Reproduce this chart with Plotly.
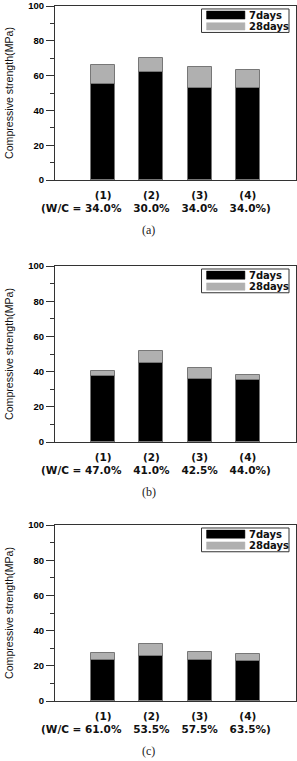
import plotly.graph_objects as go
from plotly.subplots import make_subplots

# ---- data ----
positions = [1, 2, 3, 4]
mix_labels = ["(1)", "(2)", "(3)", "(4)"]
panel_names = ["(a)", "(b)", "(c)"]
wc_a = ["34.0%", "30.0%", "34.0%", "34.0%"]
wc_b = ["47.0%", "41.0%", "42.5%", "44.0%"]
wc_c = ["61.0%", "53.5%", "57.5%", "63.5%"]
days7_a = [55.0, 62.2, 52.9, 52.7]
days28_a = [66.0, 70.3, 64.9, 63.3]
days7_b = [37.5, 44.9, 36.0, 35.4]
days28_b = [40.3, 51.5, 42.0, 38.3]
days7_c = [23.1, 25.8, 23.5, 22.9]
days28_c = [27.4, 32.4, 27.8, 26.7]

panels = [
    (wc_a, days7_a, days28_a),
    (wc_b, days7_b, days28_b),
    (wc_c, days7_c, days28_c),
]

W, H = 297, 761
ML, MR, MT, MB = 55, 1, 6, 60
plot_h = H - MT - MB
# pixel extents (top, bottom) of each panel's plotting area
pix = [(6, 180), (266, 442), (525, 701)]

def ydom(top, bot):
    return [(H - MB - bot) / plot_h, (H - MB - top) / plot_h]

fig = make_subplots(rows=3, cols=1)

GRAY = "#b0b0b0"
AXC = "#333333"
TICKF = dict(family="Liberation Sans, Arial, sans-serif", size=9.5, color="#000000", weight="bold")
XLF = dict(family="DejaVu Sans, sans-serif", size=10.5, color="#111111", weight="bold")
TITF = dict(family="Liberation Sans, Arial, sans-serif", size=10.6, color="#111111")
LEGF = dict(family="DejaVu Sans, sans-serif", size=10, color="#111111", weight="bold")

for i, (wc, d7, d28) in enumerate(panels):
    r = i + 1
    fig.add_trace(go.Bar(x=positions, y=d28, width=0.5, marker=dict(color=GRAY, line=dict(color="#777777", width=1)),
                         name="28days", showlegend=False), row=r, col=1)
    fig.add_trace(go.Bar(x=positions, y=d7, width=0.5, marker=dict(color="#000000", line=dict(color="#777777", width=1)),
                         name="7days", showlegend=False), row=r, col=1)
    sfx = "" if r == 1 else str(r)
    fig.update_layout(**{
        f"xaxis{sfx}": dict(range=[0, 5], tickvals=positions,
                             ticktext=[f"{m}<br>{w}" for m, w in zip(mix_labels, wc)],
                             tickfont=XLF, showline=True, linecolor=AXC, linewidth=1, mirror=True,
                             ticks="", ticklabelstandoff=5, showgrid=False, zeroline=False,
                             fixedrange=True, domain=[0, 1]),
        f"yaxis{sfx}": dict(range=[0, 100], dtick=20, tickfont=TICKF, showline=True, linecolor=AXC, linewidth=1,
                             mirror=True, ticks="outside", ticklen=8, tickcolor=AXC, showgrid=False,
                             zeroline=False,
                             minor=dict(ticks="outside", ticklen=4, dtick=10, tickcolor=AXC, showgrid=False),
                             title=dict(text="Compressive strength(MPa)", font=TITF, standoff=12),
                             domain=ydom(*pix[i])),
    })
    xd, yd = f"x{sfx} domain", f"y{sfx} domain"
    # legend box drawn inside each panel
    fig.add_shape(type="rect", xref=xd, yref=yd, x0=0.608, x1=0.971, y0=0.848, y1=0.983,
                  line=dict(color=AXC, width=1), fillcolor="white")
    fig.add_shape(type="rect", xref=xd, yref=yd, x0=0.629, x1=0.788, y0=0.925, y1=0.971,
                  line=dict(color="#000000", width=0.5), fillcolor="#000000")
    fig.add_shape(type="rect", xref=xd, yref=yd, x0=0.629, x1=0.788, y0=0.862, y1=0.904,
                  line=dict(color=GRAY, width=0.5), fillcolor=GRAY)
    fig.add_annotation(xref=xd, yref=yd, x=0.797, y=0.948, text="7days", showarrow=False,
                       xanchor="left", yanchor="middle", font=LEGF)
    fig.add_annotation(xref=xd, yref=yd, x=0.797, y=0.883, text="28days", showarrow=False,
                       xanchor="left", yanchor="middle", font=LEGF)
    # prefix / suffix of the W/C line
    top, bot = pix[i]
    ph = bot - top
    yl2 = (bot - (bot + 28)) / ph
    fig.add_annotation(xref=f"x{sfx}", yref=yd, x=0.58, y=yl2, text="(W/C =", showarrow=False,
                       xanchor="right", yanchor="middle", font=XLF)
    fig.add_annotation(xref=f"x{sfx}", yref=yd, x=4.33, y=yl2, text=")", showarrow=False,
                       xanchor="left", yanchor="middle", font=XLF)
    # caption
    ycap = (bot - (bot + 50)) / ph
    fig.add_annotation(xref="paper", yref=yd, x=(148.5 - ML) / (W - ML - MR), y=ycap, text=panel_names[i],
                       showarrow=False, xanchor="center", yanchor="middle",
                       font=dict(family="Liberation Serif, DejaVu Serif, serif", size=12, color="#222222"))

fig.update_layout(width=W, height=H, margin=dict(l=ML, r=MR, t=MT, b=MB), barmode="overlay",
                  plot_bgcolor="white", paper_bgcolor="white", showlegend=False, bargap=0)

fig.write_html("out.html")
